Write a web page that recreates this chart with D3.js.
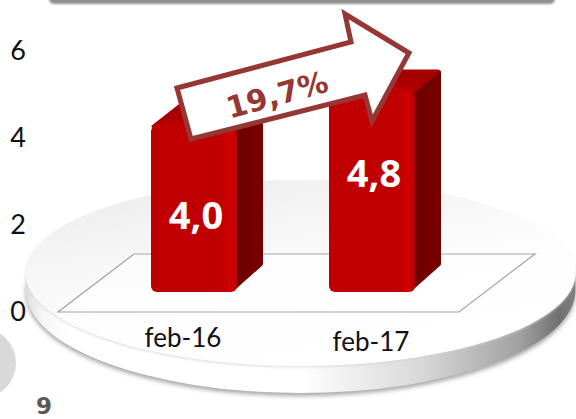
<!DOCTYPE html>
<html><head><meta charset="utf-8">
<style>html,body{margin:0;padding:0;background:#fff;overflow:hidden}svg{display:block}</style>
<script src="https://cdn.jsdelivr.net/npm/d3@7"></script></head>
<body><svg id="c" width="576" height="419"></svg>
<script>
const categories = ["feb-16","feb-17"];
const values = [4.0,4.8];
const valueLabels = ["4,0","4,8"];
const yTicks = [0,2,4,6];
const changeLabel = "19,7%";
const pageNumber = "9";

const svg = d3.select("#c");
const defs = svg.append("defs");
function lin(id,x2,y2,stops){
  const g=defs.append("linearGradient").attr("id",id).attr("x1",0).attr("y1",0).attr("x2",x2).attr("y2",y2);
  stops.forEach(s=>g.append("stop").attr("offset",s[0]).attr("stop-color",s[1]));
}
lin("rim",1,0,[[0,"#dcdcdc"],[0.03,"#f6f6f6"],[0.08,"#ffffff"],[0.5,"#ffffff"],[0.72,"#d8d8d8"],[0.9,"#a0a0a0"],[0.97,"#707070"],[1,"#808080"]]);
lin("top",0.55,1,[[0,"#e9e9e9"],[0.35,"#f5f5f5"],[0.65,"#fdfdfd"],[1,"#ffffff"]]);
lin("face",1,0,[[0,"#b80000"],[0.05,"#c00000"],[0.82,"#c00000"],[0.93,"#d20000"],[1,"#b00000"]]);
lin("topFace",0,1,[[0,"#a00000"],[0.7,"#b00000"],[1,"#c80000"]]);
lin("side",1,0,[[0,"#6a0000"],[1,"#7a0000"]]);
[["b2",2],["b1",0.8]].forEach(([id,s])=>{
  defs.append("filter").attr("id",id).attr("x","-20%").attr("y","-20%").attr("width","140%").attr("height","140%")
    .append("feGaussianBlur").attr("stdDeviation",s);
});

// header band and side circle
svg.append("rect").attr("x",49).attr("y",-14).attr("width",506).attr("height",18).attr("rx",5)
  .attr("fill","#8f8f8f").attr("filter","url(#b1)");
svg.append("rect").attr("x",47).attr("y",-14).attr("width",510).attr("height",14).attr("fill","#fff");
svg.append("circle").attr("cx",-19).attr("cy",363).attr("r",35).attr("fill","#d9d9d9");
svg.append("text").attr("x",44).attr("y",413.5).attr("text-anchor","middle")
  .attr("font-family","'DejaVu Sans',sans-serif").attr("font-weight",700).attr("font-size",23).attr("fill","#595959").text(pageNumber);

// pedestal
const cx=300.5, cy=273, rx=275, ry=93, thick=27;
const outline=`M${cx-rx},${cy}A${rx},${ry} 0 0 0 ${cx+rx},${cy}L${cx+rx},${cy+thick-10}A${rx},${ry+10} 0 0 1 ${cx-rx},${cy+thick-10}Z`;
svg.append("path").attr("d",outline).attr("transform","translate(0,3)").attr("fill","#a8a8a8").attr("filter","url(#b2)");
svg.append("path").attr("d",outline).attr("fill","url(#rim)");
svg.append("ellipse").attr("cx",cx).attr("cy",cy+1.5).attr("rx",rx).attr("ry",ry).attr("fill","#cfcfcf").attr("opacity",.6).attr("filter","url(#b1)");
svg.append("ellipse").attr("cx",cx).attr("cy",cy).attr("rx",rx).attr("ry",ry).attr("fill","url(#top)");

// scales
const tickY=d3.scaleLinear().domain([0,6]).range([312,51]);
const barY=d3.scaleLinear().domain([0,6]).range([292,42]);
const fx=d3.scalePoint().domain(categories).range([151,329]);
const barW=86, dx=28, dy=-24;
const labelOffset=[90,81];

// floor
const floor=[[58,312],[459,312],[535,254],[134,254]];
svg.append("path").attr("d",d3.line()(floor)+"Z").attr("fill","#fff").attr("fill-opacity",.55)
  .attr("stroke","#a3a3a3").attr("stroke-width",1.2);

// y axis labels
svg.selectAll("text.y").data(yTicks).join("text").attr("class","y")
  .attr("x",18).attr("y",d=>tickY(d)).attr("dy","0.33em").attr("text-anchor","middle")
  .attr("font-family","Lato,sans-serif").attr("font-size",27).attr("fill","#111").text(d=>d);

// bars
const bars=svg.selectAll("g.bar").data(categories.map((c,i)=>({c,v:values[i],l:valueLabels[i],o:labelOffset[i]}))).join("g").attr("class","bar");
bars.append("path").attr("fill","url(#side)").attr("stroke","#740000").attr("stroke-width",4).attr("stroke-linejoin","round")
  .attr("d",d=>{const l=fx(d.c)+barW-3,t=barY(d.v)+3,b=barY(0)-4;
    return d3.line()([[l,t],[l+dx-1,t+dy+1],[l+dx-1,b+dy],[l,b]])+"Z";});
bars.append("path").attr("fill","url(#topFace)").attr("stroke","#a80000").attr("stroke-width",3).attr("stroke-linejoin","round")
  .attr("d",d=>{const l=fx(d.c)+2,t=barY(d.v)+1;
    return d3.line()([[l,t],[l+barW-5,t],[l+barW+dx-7,t+dy+2],[l+dx,t+dy+2]])+"Z";});
bars.append("rect").attr("x",d=>fx(d.c)).attr("y",d=>barY(d.v)).attr("width",barW).attr("height",d=>barY(0)-barY(d.v))
  .attr("rx",6).attr("fill","url(#face)");
bars.append("text").attr("x",d=>fx(d.c)+barW/2+2).attr("y",d=>barY(d.v)+d.o).attr("dy","0.36em").attr("text-anchor","middle")
  .attr("font-family","'Open Sans',sans-serif").attr("font-weight",700).attr("font-size",38).attr("fill","#fff").text(d=>d.l);

// x labels
const xLabelPos=[[183,347],[371,351]];
svg.selectAll("text.x").data(categories).join("text").attr("class","x")
  .attr("x",(d,i)=>xLabelPos[i][0]).attr("y",(d,i)=>xLabelPos[i][1]).attr("text-anchor","middle")
  .attr("font-family","Lato,sans-serif").attr("font-size",26).attr("fill","#111").text(d=>d);

// arrow annotation
const arrow=[[177,88],[351,42],[345,14],[409,53],[372,121],[365,95],[191,139]];
svg.append("path").attr("d",d3.line()(arrow)+"Z").attr("fill","#fff").attr("stroke","#953735").attr("stroke-width",5).attr("stroke-linejoin","miter");
svg.append("text").attr("transform","translate(277,94.5) rotate(-15.5)").attr("dy","0.36em").attr("text-anchor","middle")
  .attr("font-family","'DejaVu Sans',sans-serif").attr("font-weight",700).attr("font-size",30).attr("fill","#953735").text(changeLabel);
</script></body></html>
